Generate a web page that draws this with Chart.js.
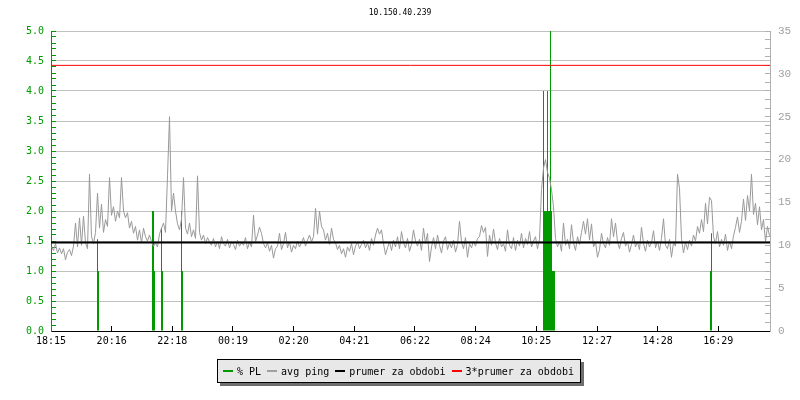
<!DOCTYPE html>
<html>
<head>
<meta charset="utf-8">
<title>10.150.40.239</title>
<script src="https://cdn.jsdelivr.net/npm/chart.js@4.4.1/dist/chart.umd.min.js"></script>
<style>
  html, body { margin: 0; padding: 0; background: #fff; }
  #wrap { position: relative; width: 800px; height: 400px; }
  #legend {
    position: absolute; left: 217px; top: 359px; width: 362px; height: 22px;
    border: 1px solid #000; background: #e8e8e8; box-shadow: 3px 3px 0 #6e6e6e;
    display: flex; align-items: center;
    font: 10px "DejaVu Sans Mono", monospace; color: #000; white-space: nowrap;
  }
  .item { display: flex; align-items: center; margin-left: 5px; }
  .item + .item { margin-left: 6px; }
  .mark { width: 10px; height: 2px; margin-right: 4px; }
</style>
</head>
<body>
<div id="wrap">
  <canvas id="chart" width="800" height="400"></canvas>
  <div id="legend">
    <span class="item"><span class="mark" style="background:#009900"></span>% PL</span>
    <span class="item"><span class="mark" style="background:#a0a0a0"></span>avg ping</span>
    <span class="item"><span class="mark" style="background:#000"></span>prumer za obdobi</span>
    <span class="item"><span class="mark" style="background:#ff0000"></span>3*prumer za obdobi</span>
  </div>
</div>
<script>
"use strict";

// time axis, minutes from 18:15
const tickLabels = ['18:15', '20:16', '22:18', '00:19', '02:20', '04:21',
                    '06:22', '08:24', '10:25', '12:27', '14:28', '16:29'];
const tickStep = 7280 / 60;
const spanMinutes = 1438;

// avg ping [ms], one value every 4 minutes
const pingStep = 4;
const avgPing = [
  9.8, 9.4, 10.2, 9.1, 9.7, 9.0, 9.6, 8.3, 9.2, 9.5,
  8.8, 9.9, 12.6, 9.8, 13.2, 10.0, 13.4, 10.3, 9.6, 18.3,
  11.0, 10.2, 11.5, 16.1, 12.0, 14.8, 11.5, 13.0, 12.2, 17.9,
  13.5, 14.5, 12.8, 14.0, 13.2, 17.9, 14.0, 13.2, 13.8, 12.0,
  12.8, 11.4, 12.2, 10.6, 11.8, 10.3, 12.0, 11.0, 10.5, 11.2,
  10.4, 9.9, 10.3, 9.8, 11.3, 12.0, 12.6, 11.5, 18.1, 25.0,
  14.0, 16.1, 14.0, 12.5, 11.8, 13.0, 17.9, 12.0, 11.3, 12.6,
  11.0, 11.8, 10.8, 18.1, 11.5, 10.6, 11.2, 10.2, 10.9, 10.4,
  10.0, 10.8, 9.8, 10.5, 9.6, 11.0, 10.2, 9.9, 10.7, 9.7,
  10.4, 10.1, 9.5, 10.6, 9.9, 10.3, 10.0, 10.9, 9.6, 10.4,
  9.8, 13.5, 10.4, 11.2, 12.1, 11.4, 10.2, 9.7, 10.3, 9.3,
  10.0, 8.5, 9.6, 9.9, 11.4, 9.5, 10.2, 11.5, 9.7, 10.4,
  9.2, 10.0, 9.6, 10.5, 9.8, 10.3, 10.9, 9.9, 10.6, 11.2,
  10.4, 11.0, 14.3, 11.3, 14.0, 12.2, 11.8, 10.6, 11.4, 10.1,
  12.0, 10.7, 10.3, 9.5, 10.0, 9.0, 9.6, 8.6, 9.8, 9.3,
  10.2, 8.9, 9.9, 10.4, 9.6, 10.1, 10.6, 9.7, 10.3, 9.4,
  10.8, 10.0, 11.2, 12.0, 11.3, 11.8, 10.2, 8.9, 9.7, 10.4,
  9.4, 10.6, 9.8, 11.0, 9.6, 11.6, 10.3, 9.7, 10.8, 9.3,
  10.1, 11.8, 10.5, 9.9, 10.7, 9.4, 12.0, 10.2, 11.4, 8.1,
  9.8, 10.9, 9.6, 11.2, 10.0, 9.1, 10.5, 11.0, 9.5, 10.3,
  9.7, 10.6, 9.2, 10.1, 12.8, 10.4, 9.6, 10.9, 8.6, 10.2,
  9.7, 10.5, 9.9, 10.8, 11.0, 12.3, 11.5, 12.1, 8.7, 11.2,
  10.0, 11.9, 10.3, 9.5, 10.8, 9.8, 10.2, 9.3, 11.8, 10.0,
  9.6, 10.9, 9.4, 10.6, 9.9, 11.4, 9.7, 10.8, 10.1, 11.6,
  9.8, 10.5, 11.0, 9.6, 10.7, 16.5, 19.0, 20.0, 18.5, 17.8,
  16.5, 14.5, 10.8, 9.8, 10.5, 9.3, 12.6, 10.0, 10.7, 9.6,
  12.4, 10.3, 9.4, 11.0, 10.1, 11.5, 12.8, 11.3, 13.1, 10.6,
  12.5, 9.8, 10.4, 8.6, 9.5, 11.4, 10.2, 9.7, 10.9, 10.0,
  13.1, 11.0, 12.6, 10.4, 9.6, 10.8, 11.5, 9.9, 10.5, 9.2,
  10.1, 11.2, 9.8, 10.4, 9.5, 12.1, 10.2, 9.3, 10.6, 9.8,
  10.3, 11.7, 9.7, 10.5, 9.4, 10.8, 13.1, 10.0, 9.6, 10.7,
  8.6, 10.3, 9.9, 18.3, 16.6, 10.8, 9.1, 10.4, 9.5, 10.6,
  9.9, 11.2, 10.5, 12.2, 11.4, 13.0, 11.6, 14.9, 12.5, 15.6,
  15.2, 11.0, 10.2, 11.6, 9.8, 10.7, 10.0, 11.3, 9.4, 10.5,
  9.6, 11.1, 12.1, 13.3, 11.5, 12.8, 15.4, 12.9, 15.8, 14.0,
  18.3, 13.6, 14.9, 12.4, 14.5, 11.8, 13.0, 10.4, 12.2, 11.1
];

// packet loss [%], only the non-zero 2-minute samples
const plStep = 2;
const plMinute = [92, 94, 202, 204, 206, 220, 222, 260, 262,
                  984, 986, 988, 990, 992, 994, 996, 998, 1000, 1002, 1004, 1006,
                  1318, 1320];
const plValue  = [1.53, 1.0, 2.0, 2.0, 1.0, 1.72, 1.0, 2.0, 1.0,
                  4.0, 2.0, 2.0, 2.0, 4.0, 2.0, 2.0, 5.0, 2.0, 1.0, 1.0, 1.0,
                  1.0, 1.63];

// period average [ms]
const prumer = 10.33;

(() => {
  Chart.defaults.font.family = '"DejaVu Sans Mono", monospace';
  Chart.defaults.font.size = 10;
  Chart.defaults.color = '#000';

  // each sample is a bar covering its own 2 minutes
  const plData = plMinute.map((m, k) => ({ x: m + plStep / 2, y: plValue[k] }));
  const pingData = avgPing.map((v, i) => ({ x: i * pingStep + 1, y: v }));

  const isHalf = (v) => Math.abs(v * 2 - Math.round(v * 2)) < 1e-6;
  const isFive = (v) => Math.abs(v / 5 - Math.round(v / 5)) < 1e-6;

  new Chart(document.getElementById('chart'), {
    type: 'line',
    data: {
      datasets: [
        {
          label: '3*prumer za obdobi',
          data: [{ x: 0, y: 3 * prumer }, { x: spanMinutes, y: 3 * prumer }],
          yAxisID: 'ms',
          borderColor: '#ff0000',
          borderWidth: 1,
          order: 1
        },
        {
          label: 'prumer za obdobi',
          data: [{ x: 0, y: prumer }, { x: spanMinutes, y: prumer }],
          yAxisID: 'ms',
          borderColor: '#000',
          borderWidth: 2,
          order: 2
        },
        {
          label: 'avg ping',
          data: pingData,
          yAxisID: 'ms',
          borderColor: '#999999',
          borderWidth: 1,
          order: 3
        },
        {
          type: 'bar',
          label: '% PL',
          data: plData,
          yAxisID: 'pl',
          backgroundColor: '#009900',
          borderWidth: 0,
          barThickness: 1,
          inflateAmount: 0,
          grouped: false,
          order: 4
        }
      ]
    },
    options: {
      responsive: false,
      animation: false,
      events: [],
      elements: { point: { radius: 0 } },
      layout: { padding: 0 },
      plugins: {
        legend: { display: false },
        tooltip: { enabled: false },
        title: {
          display: true,
          text: '10.150.40.239',
          font: { size: 8, weight: 'normal' },
          color: '#000',
          padding: { top: 8, bottom: 13.4 }
        }
      },
      scales: {
        x: {
          type: 'linear',
          min: 0,
          max: spanMinutes,
          offset: false,
          afterFit: (s) => { s.height = 69; },
          afterBuildTicks: (s) => { s.ticks = tickLabels.map((l, i) => ({ value: i * tickStep })); },
          ticks: {
            autoSkip: false,
            maxRotation: 0,
            padding: 9,
            color: '#000',
            callback: (v, i) => tickLabels[i]
          },
          grid: { drawOnChartArea: false, offset: false, tickLength: -5, tickColor: '#000' },
          border: { color: '#000' }
        },
        pl: {
          type: 'linear',
          position: 'left',
          min: 0,
          max: 5,
          afterFit: (s) => { s.width = 51; },
          ticks: {
            stepSize: 0.1,
            autoSkip: false,
            padding: 12,
            color: '#009900',
            callback: (v) => isHalf(v) ? v.toFixed(1) : ''
          },
          grid: {
            tickLength: -5,
            tickColor: '#009900',
            color: (c) => isHalf(c.tick.value) ? '#c0c0c0' : 'rgba(0,0,0,0)'
          },
          border: { color: '#009900' }
        },
        ms: {
          type: 'linear',
          position: 'right',
          min: 0,
          max: 35,
          afterFit: (s) => { s.width = 30; },
          ticks: {
            stepSize: 1,
            autoSkip: false,
            padding: 13,
            color: '#a0a0a0',
            font: { family: '"Liberation Mono", monospace', size: 11 },
            callback: (v) => isFive(v) ? String(v) : ''
          },
          grid: { drawOnChartArea: false, tickLength: -5, tickColor: '#b0b0b0' },
          border: { color: '#b0b0b0' }
        }
      }
    }
  });
})();
</script>
</body>
</html>
